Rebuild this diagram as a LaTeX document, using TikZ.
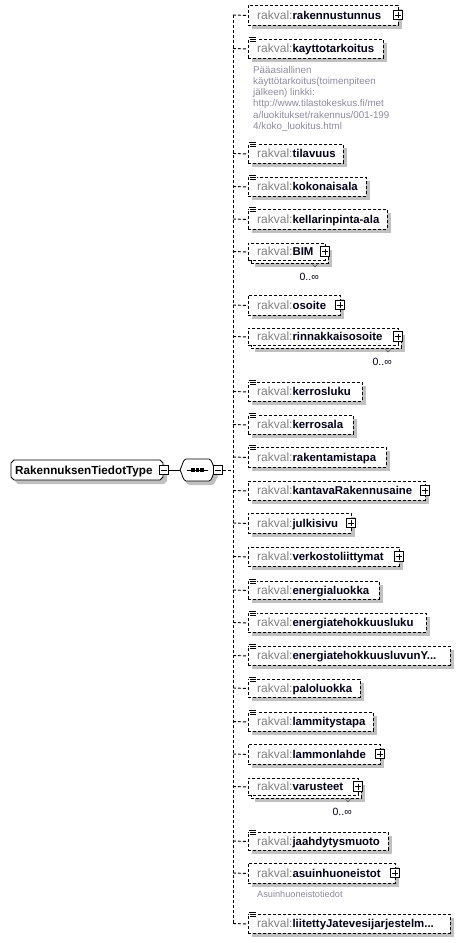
\documentclass[tikz,border=0pt]{standalone}
\usepackage{fontspec}
\setmainfont{Liberation Sans}
\usetikzlibrary{calc}
\definecolor{pfxc}{RGB}{128,128,128}
\definecolor{namec}{RGB}{0,0,24}
\definecolor{docc}{RGB}{140,140,160}
\definecolor{shadc}{RGB}{192,192,192}
\tikzset{
  dsh/.style={line width=0.9pt, dash pattern=on 3pt off 2pt},
  ebox/.style={draw, dsh, fill=white, rectangle, anchor=north west, inner sep=0pt},
  etext/.style={anchor=base west, inner sep=0pt, font=\fontsize{12}{13}\selectfont},
  pmbox/.style={draw, line width=0.8pt, fill=white, minimum size=9.5pt, inner sep=0pt, rectangle},
  doctext/.style={anchor=north west, inner sep=0pt, text=docc, align=left},
  occ/.style={anchor=base east, inner sep=0pt, text=namec, font=\fontsize{10.5}{12}\selectfont},
  sym/.style={line width=0.8pt},
}
\newcommand\ElName[1]{\textcolor{pfxc}{rakval:}{\fontsize{11.4}{13}\selectfont\bfseries\textcolor{namec}{#1}}}
% simple element with doc icon: id, top, bottom, right, name
\newcommand\SElem[5]{%
  \pgfmathsetmacro\ew{#4-248}\pgfmathsetmacro\eh{#3-#2}\pgfmathsetmacro\ec{(#2+#3)/2}
  \fill[shadc] (252,#2+4) rectangle (#4+4,#3+4);
  \node[ebox, minimum width=\ew pt, minimum height=\eh pt] (#1) at (248,#2) {};
  \node[etext] (#1t) at (257,\ec+4.2) {\ElName{#5}};
  \fill[white] (249,#2-2.5) rectangle (256.5,#2+4);
  \draw[line width=0.7pt] (249.3,#2-1.5) -- (255.8,#2-1.5) (250.3,#2+0.5) -- (255.8,#2+0.5) (250.3,#2+2.5) -- (255.8,#2+2.5);
  \coordinate (#1s) at (233,\ec);
  \draw[dsh] (#1s) -- (#1.west);
}
% complex element with plus box
\newcommand\CElem[5]{%
  \pgfmathsetmacro\ew{#4-248}\pgfmathsetmacro\eh{#3-#2}\pgfmathsetmacro\ec{(#2+#3)/2}
  \fill[shadc] (252,#2+4) rectangle (#4+4,#3+4);
  \node[ebox, minimum width=\ew pt, minimum height=\eh pt] (#1) at (248,#2) {};
  \node[etext] (#1t) at (257,\ec+4.2) {\ElName{#5}};
  \node[pmbox] (#1p) at (#4,\ec) {};
  \draw[sym] ($(#1p.center)+(-3,0)$) -- ($(#1p.center)+(3,0)$) ($(#1p.center)+(0,-3)$) -- ($(#1p.center)+(0,3)$);
  \coordinate (#1s) at (233,\ec);
  \draw[dsh] (#1s) -- (#1.west);
}
% multiple complex element (0..inf)
\newcommand\MElem[5]{%
  \pgfmathsetmacro\ew{#4-248}\pgfmathsetmacro\eh{#3-#2-3}\pgfmathsetmacro\ec{(#2+#3-3)/2}
  \fill[shadc] (255,#2+7) rectangle (#4+7,#3+4);
  \node[ebox, minimum width=\ew pt, minimum height=\eh pt] (#1b) at (251,#2+3) {};
  \node[ebox, minimum width=\ew pt, minimum height=\eh pt] (#1) at (248,#2) {};
  \node[etext] (#1t) at (257,\ec+4.2) {\ElName{#5}};
  \node[pmbox] (#1p) at (#4,\ec) {};
  \draw[sym] ($(#1p.center)+(-3,0)$) -- ($(#1p.center)+(3,0)$) ($(#1p.center)+(0,-3)$) -- ($(#1p.center)+(0,3)$);
  \draw[line width=0.5pt, black!70] (#4-13,#3+0.5) -- (#4-10,#3+4) -- (#4-7,#3+0.5);
  \node[occ] (#1o) at (#4-6,#3+17) {0..∞};
  \coordinate (#1s) at (233,\ec);
  \draw[dsh] (#1s) -- (#1.west);
}
\begin{document}
\begin{tikzpicture}[x=1pt,y=-1pt]
\useasboundingbox[fill=white] (0,0) rectangle (464,943);

% root node
\fill[shadc] (18,464) -- (164,464) -- (167,467) -- (167,481) -- (164,484) -- (18,484) -- (15,481) -- (15,467) -- cycle;
\draw[line width=0.8pt, fill=white] (14,460) -- (160,460) -- (163,463) -- (163,477) -- (160,480) -- (14,480) -- (11,477) -- (11,463) -- cycle;
\node[etext, font=\fontsize{11.7}{13}\selectfont\bfseries] (root) at (15,474.2) {RakennuksenTiedotType};
\node[pmbox] (rootm) at (164,470) {};
\draw[sym] ($(rootm.center)+(-3,0)$) -- ($(rootm.center)+(3,0)$);

% sequence compositor
\node[inner sep=0pt, minimum width=35pt, minimum height=22pt] (comp) at (197.5,470) {};
\fill[shadc] (189,463) -- (212,463) .. controls (215,463) and (217,471) .. (219,474) .. controls (217,477) and (215,485) .. (212,485) -- (189,485) .. controls (186,485) and (184,477) .. (182,474) .. controls (184,471) and (186,463) .. (189,463) -- cycle;
\draw[line width=0.8pt, fill=white] (186,459) -- (209,459) .. controls (212,459) and (213,467) .. (215,470) .. controls (213,473) and (212,481) .. (209,481) -- (186,481) .. controls (183,481) and (182,473) .. (180,470) .. controls (182,467) and (183,459) .. (186,459) -- cycle;
\draw[line width=0.8pt] (187,470) -- (208,470);
\foreach \dx in {193,197.5,202} \fill (\dx-1.6,468.4) rectangle (\dx+1.6,471.6);
\node[pmbox] (compm) at (218,470) {};
\draw[sym] ($(compm.center)+(-3,0)$) -- ($(compm.center)+(3,0)$);
\draw[line width=0.8pt] (rootm.east) -- (comp.west);
\coordinate (spmid) at (233,470);
\draw[dsh] (compm.east) -- (spmid);

% elements
\CElem{e1}{5}{25}{398}{rakennustunnus}
\SElem{e2}{39}{58}{383}{kayttotarkoitus}
\node[doctext, font=\fontsize{9.8}{11.2}\selectfont] (d2) at (253,66) {Pääasiallinen\\käyttötarkoitus(toimenpiteen\\jälkeen) linkki:\\http://www.tilastokeskus.fi/met\\a/luokitukset/rakennus/001-199\\4/koko\_luokitus.html};
\SElem{e3}{144}{163}{343}{tilavuus}
\SElem{e4}{177}{196}{366}{kokonaisala}
\SElem{e5}{209}{229}{387}{kellarinpinta-ala}
\MElem{e6}{243}{263}{325}{BIM}
\CElem{e7}{295}{315}{340}{osoite}
\MElem{e8}{328}{348}{398}{rinnakkaisosoite}
\SElem{e9}{382}{401}{362}{kerrosluku}
\SElem{e10}{415}{434}{353}{kerrosala}
\SElem{e11}{447}{467}{386}{rakentamistapa}
\CElem{e12}{481}{500}{425}{kantavaRakennusaine}
\CElem{e13}{513}{533}{351}{julkisivu}
\CElem{e14}{547}{566}{399}{verkostoliittymat}
\SElem{e15}{581}{599}{379}{energialuokka}
\SElem{e16}{613}{632}{426}{energiatehokkuusluku}
\SElem{e17}{646}{665}{450}{energiatehokkuusluvunY...}
\SElem{e18}{679}{697}{360}{paloluokka}
\SElem{e19}{712}{731}{373}{lammitystapa}
\CElem{e20}{744}{764}{380}{lammonlahde}
\MElem{e21}{778}{798}{358}{varusteet}
\SElem{e22}{832}{850}{388}{jaahdytysmuoto}
\CElem{e23}{863}{883}{395}{asuinhuoneistot}
\node[doctext, font=\fontsize{9.2}{11}\selectfont] (d23) at (257,891) {Asuinhuoneistotiedot};
\SElem{e24}{914}{933}{450}{liitettyJatevesijarjestelm...}

% spine
\draw[dsh] (e1s) -- (e24s);
\end{tikzpicture}
\end{document}
